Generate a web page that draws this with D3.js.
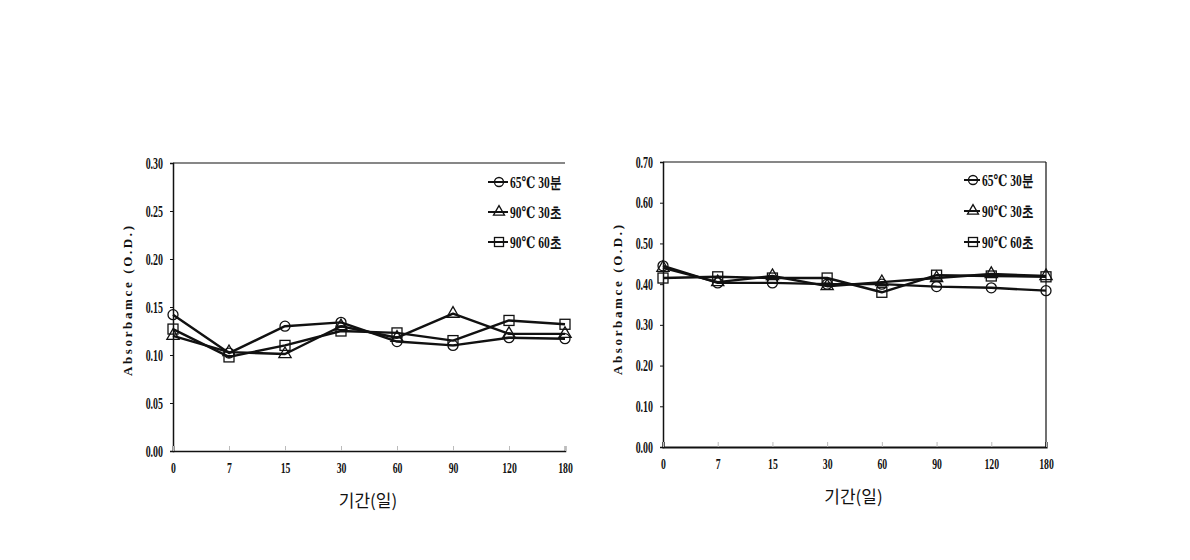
<!DOCTYPE html>
<html>
<head>
<meta charset="utf-8">
<script src="https://cdn.jsdelivr.net/npm/d3@7"></script>
<style>
  html, body { margin: 0; padding: 0; background: #fff; }
  svg { display: block; }
</style>
</head>
<body>
<svg id="chart" width="1190" height="560"></svg>
<script>
// ---- data ----
const categories = ["0", "7", "15", "30", "60", "90", "120", "180"];
const seriesNames = ["65℃ 30분", "90℃ 30초", "90℃ 60초"];
const markerTypes = ["circle", "triangle", "square"];

// Left panel
const leftCircle   = [0.142, 0.102, 0.130, 0.134, 0.114, 0.110, 0.118, 0.117];
const leftTriangle = [0.120, 0.103, 0.101, 0.130, 0.118, 0.143, 0.122, 0.122];
const leftSquare   = [0.127, 0.098, 0.110, 0.125, 0.123, 0.115, 0.136, 0.132];
const leftYTicks   = [0.00, 0.05, 0.10, 0.15, 0.20, 0.25, 0.30];

// Right panel
const rightCircle   = [0.445, 0.403, 0.403, 0.400, 0.400, 0.394, 0.391, 0.384];
const rightTriangle = [0.440, 0.405, 0.420, 0.395, 0.405, 0.415, 0.425, 0.420];
const rightSquare   = [0.415, 0.418, 0.415, 0.415, 0.380, 0.422, 0.420, 0.418];
const rightYTicks   = [0.00, 0.10, 0.20, 0.30, 0.40, 0.50, 0.60, 0.70];

const yTitle = "Absorbamce (O.D.)";
const xTitle = "기간(일)";

// ---- drawing ----
const svg = d3.select("#chart");
const numFont = "'Liberation Serif', 'DejaVu Serif', serif";
const cjkFont = "'Noto Sans CJK KR', 'Noto Sans', sans-serif";

// narrow the glyphs horizontally (the reference uses a condensed serif face)
function condense(sel, factor) {
  sel.each(function () {
    const w = this.getComputedTextLength();
    d3.select(this).attr("textLength", w * factor).attr("lengthAdjust", "spacingAndGlyphs");
  });
}

function drawMarker(g, type, x, y, s) {
  if (type === "circle") {
    g.append("circle").attr("cx", x).attr("cy", y).attr("r", s)
      .attr("fill", "none").attr("stroke", "#111").attr("stroke-width", 1.3);
  } else if (type === "triangle") {
    const sym = d3.symbol().type(d3.symbolTriangle).size(s * s * 2.6);
    g.append("path").attr("d", sym()).attr("transform", `translate(${x},${y})`)
      .attr("fill", "none").attr("stroke", "#111").attr("stroke-width", 1.3);
  } else {
    g.append("rect").attr("x", x - s).attr("y", y - s).attr("width", 2 * s).attr("height", 2 * s)
      .attr("fill", "none").attr("stroke", "#111").attr("stroke-width", 1.3);
  }
}

function panel(cfg) {
  const g = svg.append("g");
  const x = d3.scalePoint().domain(categories).range([cfg.x0, cfg.x1]).padding(0);
  const y = d3.scaleLinear().domain([0, cfg.ymax]).range([cfg.yb, cfg.yt]);

  // frame
  g.append("line").attr("x1", cfg.x0).attr("x2", cfg.x1).attr("y1", cfg.yt).attr("y2", cfg.yt)
    .attr("stroke", "#111").attr("stroke-width", 1.2);
  if (cfg.rightBorder) {
    g.append("line").attr("x1", cfg.x1).attr("x2", cfg.x1).attr("y1", cfg.yt).attr("y2", cfg.yb)
      .attr("stroke", "#111").attr("stroke-width", 1.2);
  }

  // y axis
  const yAxis = d3.axisLeft(y).tickValues(cfg.yticks).tickFormat(d3.format(".2f"))
    .tickSize(3).tickPadding(7);
  const ya = g.append("g").attr("transform", `translate(${cfg.x0},0)`).call(yAxis);
  ya.select(".domain").attr("stroke", "#111").attr("stroke-width", 1.5);
  ya.selectAll("line").attr("stroke", "#111");
  ya.selectAll("text").attr("font-family", numFont).attr("font-weight", "bold")
    .attr("font-size", 16).attr("fill", "#111");
  condense(ya.selectAll("text"), 0.62);

  // x axis
  const xAxis = d3.axisBottom(x).tickSize(-5).tickPadding(11);
  const xa = g.append("g").attr("transform", `translate(0,${cfg.yb})`).call(xAxis);
  xa.select(".domain").attr("stroke", "#111").attr("stroke-width", cfg.bottomWidth);
  xa.selectAll(".tick line").attr("stroke", "#bbb");
  xa.selectAll("text").attr("font-family", numFont).attr("font-weight", "bold")
    .attr("font-size", 15).attr("fill", "#111");
  condense(xa.selectAll("text"), 0.65);

  // lines
  const line = d3.line().x((d, i) => x(categories[i])).y(d => y(d));
  cfg.series.forEach((vals) => {
    g.append("path").datum(vals).attr("d", line)
      .attr("fill", "none").attr("stroke", "#111").attr("stroke-width", 2.4)
      .attr("stroke-linejoin", "round");
  });
  cfg.series.forEach((vals, si) => {
    vals.forEach((v, i) => drawMarker(g, markerTypes[si], x(categories[i]), y(v), 5));
  });

  // legend
  seriesNames.forEach((name, si) => {
    const ly = cfg.legY[si];
    g.append("line").attr("x1", cfg.legX).attr("x2", cfg.legX + cfg.legLen)
      .attr("y1", ly).attr("y2", ly).attr("stroke", "#111").attr("stroke-width", 2);
    drawMarker(g, markerTypes[si], cfg.legX + cfg.legLen / 2 + 1, ly, 4.5);
    const t = g.append("text").attr("x", cfg.legX + cfg.legLen + 2).attr("y", ly + 6)
      .attr("font-family", numFont).attr("font-weight", "bold").attr("font-size", 16)
      .attr("fill", "#111").text(name);
    condense(t, 0.72);
  });

  // titles
  g.append("text").attr("x", (cfg.x0 + cfg.x1) / 2 - 1).attr("y", cfg.yb + 56)
    .attr("text-anchor", "middle").attr("font-family", cjkFont).attr("font-size", 17)
    .attr("fill", "#111").text(xTitle);
  g.append("text").attr("transform", `translate(${cfg.ytx},${cfg.yty}) rotate(-90)`)
    .attr("text-anchor", "middle").attr("font-family", numFont).attr("font-weight", "bold")
    .attr("font-size", 13).attr("fill", "#111")
    .attr("textLength", 150).attr("lengthAdjust", "spacing")
    .text(yTitle);
}

panel({
  x0: 173, x1: 565, yt: 163, yb: 451, ymax: 0.30, yticks: leftYTicks,
  series: [leftCircle, leftTriangle, leftSquare],
  rightBorder: false, bottomWidth: 1.5,
  legX: 488, legLen: 20, legY: [182, 212, 242],
  ytx: 132, yty: 301
});

panel({
  x0: 663, x1: 1046, yt: 162, yb: 447, ymax: 0.70, yticks: rightYTicks,
  series: [rightCircle, rightTriangle, rightSquare],
  rightBorder: true, bottomWidth: 2.2,
  legX: 964, legLen: 16, legY: [180, 211, 242],
  ytx: 622, yty: 300
});
</script>
</body>
</html>
